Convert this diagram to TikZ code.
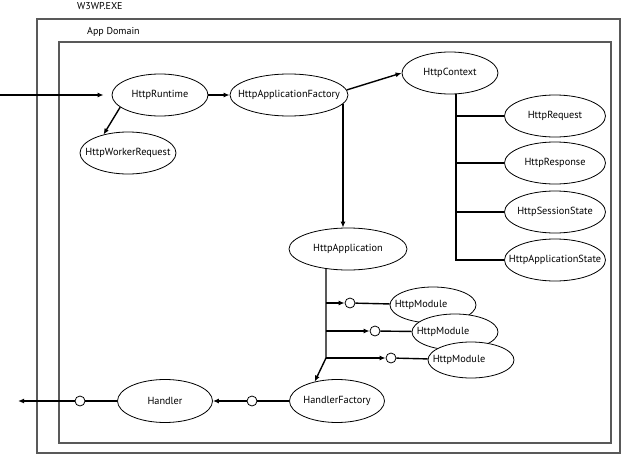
\documentclass[tikz,border=0pt]{standalone}
\usepackage{fontspec}
\setmainfont{PT Sans}
\usetikzlibrary{shapes}
\usetikzlibrary{positioning}
\usetikzlibrary{arrows.meta}
\tikzset{
    box/.style = {draw=black!65,line width=1.4pt},
    boxlabel/.style = {anchor=west,inner sep=0pt,font=\fontsize{10}{12}\selectfont},
    obj/.style = {ellipse, draw=black, line width=0.8pt, fill=white, inner ysep=0pt, inner xsep=-14pt, minimum width=96pt, minimum height=42pt, font=\fontsize{10.3}{12}\selectfont},
    objw/.style = {obj, minimum width=118pt},
    objs/.style = {obj, minimum width=101pt},
    modnode/.style = {obj, minimum width=86pt, minimum height=36pt},
    modtext/.style = {xshift=-12pt, font=\fontsize{10.3}{12}\selectfont},
    port/.style = {circle, draw=black, line width=0.8pt, fill=white, minimum size=10pt, inner sep=0pt},
    edgen/.style = {-{Latex[length=6pt,width=5pt]}, line width=1.4pt},
    edgel/.style = {line width=1.4pt}
}
\begin{document}
\begin{tikzpicture}[x=1pt,y=-1pt]
\useasboundingbox (0,0) rectangle (622,455);
%
\draw[box] (37,19) rectangle (620,453);
\draw[box] (59,42) rectangle (611,443);
\node[boxlabel] (w3wp) at (77,6) {W3WP.EXE};
\node[boxlabel] (appdom) at (87,32) {App Domain};
%
\node[obj] at (160,95) (rt) {HttpRuntime};
\node[obj] at (128,153) (wr) {HttpWorkerRequest};
\node[objw] at (289,95) (waf) {HttpApplicationFactory};
\node[obj] at (450,73) (ctx) {HttpContext};
\node[objs] at (555,116) (req) {HttpRequest};
\node[objs] at (555,163) (resp) {HttpResponse};
\node[objs] at (555,212) (sess) {HttpSessionState};
\node[objs] at (555,260) (ast) {HttpApplicationState};
\node[objw] at (348,249) (app) {HttpApplication};
\node[modnode, label={[modtext]center:HttpModule}] at (433,305) (m1) {};
\node[modnode, label={[modtext]center:HttpModule}] at (455,332) (m2) {};
\node[modnode, label={[modtext]center:HttpModule}] at (471,360) (m3) {};
\node[obj, minimum width=95pt, minimum height=43pt] at (337,401) (hf) {HandlerFactory};
\node[obj, minimum width=95pt, minimum height=43pt] at (165,401) (hd) {Handler};
%
\node[port] at (350,303) (o1) {};
\node[port] at (375,331) (o2) {};
\node[port] at (391,358) (o3) {};
\node[port] at (252,401) (o4) {};
\node[port] at (80,401) (o5) {};
%
\coordinate (in) at (0,95);
\coordinate (out) at (18,401);
\coordinate (c0) at ([xshift=6pt]ctx.south);
\coordinate (f0) at (343,104);
\coordinate (a0) at (326,268);
\coordinate (a1) at (326,358);
%
\draw[edgen, shorten >=8pt] (in) -- (rt);
\draw[edgen] (rt) -- (waf);
\draw[edgen] (rt.197) -- (wr.143);
\draw[edgen] (waf.5) -- (ctx.west);
\draw[edgen] (f0) -- (f0 |- app.north);
%
\draw[edgel] (c0) |- (ast.west);
\draw[edgel] (c0 |- req) -- (req.west);
\draw[edgel] (c0 |- resp) -- (resp.west);
\draw[edgel] (c0 |- sess) -- (sess.west);
%
\draw[edgen] (a0) -- (a1) -- (hf.139);
\draw[edgen] (a0 |- o1) -- (o1);
\draw[edgen] (a0 |- o2) -- (o2);
\draw[edgen] (a0 |- o3) -- (o3);
\draw[edgel] (o1) -- (m1);
\draw[edgel] (o2) -- (m2);
\draw[edgel] (o3) -- (m3);
%
\draw[edgel] (hf) -- (o4);
\draw[edgen] (o4) -- (hd);
\draw[edgel] (hd) -- (o5);
\draw[edgen] (o5) -- (out);

\end{tikzpicture}
\end{document}
